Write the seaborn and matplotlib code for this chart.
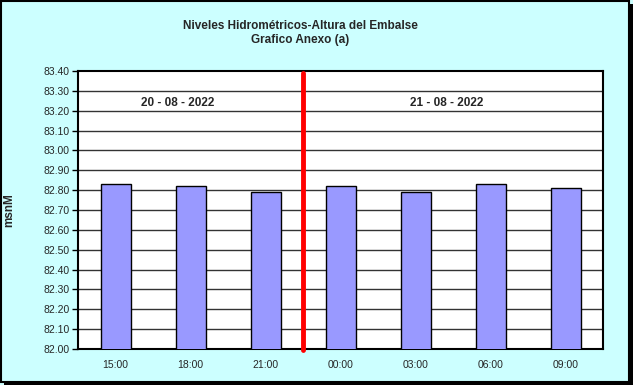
import matplotlib
matplotlib.use("Agg")
import matplotlib.pyplot as plt
import seaborn as sns
import pandas as pd
from matplotlib.patches import Rectangle

hours = ["15:00", "18:00", "21:00", "00:00", "03:00", "06:00", "09:00"]
levels = [82.83, 82.82, 82.79, 82.82, 82.79, 82.83, 82.81]
yticks = [82.00, 82.10, 82.20, 82.30, 82.40, 82.50, 82.60, 82.70, 82.80, 82.90,
          83.00, 83.10, 83.20, 83.30, 83.40]
date_labels = ["20 - 08 - 2022", "21 - 08 - 2022"]
title = "Niveles Hidrométricos-Altura del Embalse\nGrafico Anexo (a)"
ylabel = "msnM"

sns.set_theme(style="white")
plt.rcParams['font.family'] = ['Liberation Sans', 'DejaVu Sans']

df = pd.DataFrame({"hora": hours, "nivel": levels})

fig = plt.figure(figsize=(6.33, 3.85), dpi=100)
fig.patch.set_facecolor("#CCFFFF")
ax = fig.add_axes([78/633, 1-349/385, 525/633, 278/385])
ax.set_facecolor("white")

sns.barplot(data=df, x="hora", y="nivel", color="#9999FF", width=0.4,
            edgecolor="black", linewidth=1, saturation=1, ax=ax, zorder=3)

ax.set_ylim(yticks[0], yticks[-1])
ax.set_yticks(yticks)
ax.set_yticklabels([f"{v:.2f}" for v in yticks], fontsize=7.5)
ax.set_xlim(-0.5, len(hours) - 0.5)
ax.set_xticks(range(len(hours)))
ax.set_xticklabels(hours, fontsize=7.5)
ax.set_xticks([i + 0.5 for i in range(-1, len(hours))], minor=True)
ax.tick_params(axis="x", which="major", length=0, pad=8)
ax.tick_params(axis="x", which="minor", length=3, width=1, color="black", direction="out")
ax.tick_params(axis="y", which="major", length=4, width=1, color="black", direction="out", pad=2, left=True)

for v in yticks[1:-1]:
    ax.axhline(v, color="#333333", lw=1, zorder=1)

for s in ax.spines.values():
    s.set_color("black")
    s.set_linewidth(1.5)

ax.set_xlabel("")
ax.set_ylabel(ylabel, fontsize=8.5, fontweight="bold", labelpad=20)

ax.axvline(2.5, ymin=-0.005, ymax=0.993, color="red", lw=3.5, zorder=5, clip_on=False)

ax.text(0.83, 83.24, date_labels[0], ha="center", va="center", fontsize=8.5, fontweight="bold")
ax.text(4.41, 83.24, date_labels[1], ha="center", va="center", fontsize=8.5, fontweight="bold")

fig.text(300/633, 1 - 33/385, title, ha="center", va="center", fontsize=8.5,
         fontweight="bold", linespacing=1.15)

fig.patches.append(Rectangle((1/633, 3/385), 628/633, 381/385, transform=fig.transFigure,
                             fill=False, edgecolor="black", lw=1.5))
fig.patches.append(Rectangle((4/633, 0), 629/633, 3/385, transform=fig.transFigure,
                             facecolor="black", edgecolor="none"))
fig.patches.append(Rectangle((630/633, 0), 3/633, 381/385, transform=fig.transFigure,
                             facecolor="black", edgecolor="none"))

fig.savefig("out.png", dpi=100, facecolor=fig.get_facecolor())
